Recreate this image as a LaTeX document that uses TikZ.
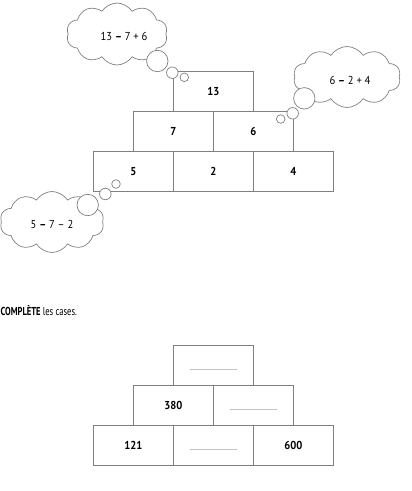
\documentclass[tikz,border=0pt]{standalone}
\usepackage{fontspec}
\setmainfont{PT Sans}
\newfontfamily\narrowfont[FakeStretch=0.74]{PT Sans}
\newfontfamily\numfont[FakeStretch=0.92]{PT Sans}
\usetikzlibrary{shapes.symbols}
\definecolor{linegray}{HTML}{808080}
\definecolor{blankgray}{HTML}{C4C4C4}
\tikzset{
 cell/.style={draw=linegray, line width=0.8pt, minimum width=80pt, minimum height=40pt, inner sep=0pt, font=\numfont\bfseries\fontsize{11.5}{13}\selectfont},
 thought/.style={cloud, draw=linegray, line width=0.7pt, cloud puffs=10, cloud puff arc=115, aspect=1.7, inner sep=0pt, minimum width=100pt, minimum height=60pt},
 thoughttext/.style={font=\numfont\fontsize{11.5}{13}\selectfont, inner sep=0pt},
 bubble/.style={circle, draw=linegray, line width=0.7pt, fill=white, inner sep=0pt},
 blank/.style={draw=blankgray, line width=0.6pt}
}
\begin{document}
\begin{tikzpicture}[x=1pt,y=-1pt]
\useasboundingbox (0,0) rectangle (412,491);
\clip (0,0) rectangle (412,491);
% clouds
\node[thought, minimum width=101pt, minimum height=62pt] (c1) at (117,34) {};
\node[thought, minimum width=107pt, minimum height=61pt] (c2) at (347,77) {};
\node[thought, minimum width=104pt, minimum height=61pt] (c3) at (52,222) {};
\node[thoughttext] (c1t) at (124,36) {13 \textbf{–} 7 + 6};
\node[thoughttext] (c2t) at (350,80) {6 \textbf{–} 2 + 4};
\node[thoughttext] (c3t) at (52,224) {5 \textbf{–} 7 – 2};
% upper pyramid
\node[cell] (a13) at (213.3,91.7) {13};
\node[cell] (a7) at (173.3,131.7) {7};
\node[cell] (a6) at (253.3,131.7) {6};
\node[cell] (a5) at (133.3,171.7) {5};
\node[cell] (a2) at (213.3,171.7) {2};
\node[cell] (a4) at (293.3,171.7) {4};
% bubbles
\node[bubble, minimum size=21.4pt] (b1l) at (157.3,61) {};
\node[bubble, minimum size=11.5pt] (b1m) at (172.3,72.7) {};
\node[bubble, minimum size=8.6pt] (b1s) at (184.3,77.3) {};
\node[bubble, minimum size=21.4pt] (b2l) at (304.3,98.3) {};
\node[bubble, minimum size=11.5pt] (b2m) at (292.7,113.3) {};
\node[bubble, minimum size=8.6pt] (b2s) at (280.7,119) {};
\node[bubble, minimum size=21.4pt] (b3l) at (87.7,205) {};
\node[bubble, minimum size=11.5pt] (b3m) at (105.3,194) {};
\node[bubble, minimum size=8.6pt] (b3s) at (116,184) {};
% instruction
\node[anchor=west, inner sep=0pt, font=\narrowfont\fontsize{11.5}{13}\selectfont] (instr) at (0.5,311) {\textbf{COMPLÈTE} les cases.};
% lower pyramid
\node[cell] (p1) at (213.3,365) {};
\node[cell] (p380) at (173.3,405) {380};
\node[cell] (p2) at (253.3,405) {};
\node[cell] (p121) at (133.3,445) {121};
\node[cell] (p3) at (213.3,445) {};
\node[cell] (p600) at (293.3,445) {600};
\draw[blank] ([xshift=-23.3pt,yshift=-4pt]p1.center) -- ([xshift=23.3pt,yshift=-4pt]p1.center);
\draw[blank] ([xshift=-23.3pt,yshift=-4pt]p2.center) -- ([xshift=23.3pt,yshift=-4pt]p2.center);
\draw[blank] ([xshift=-23.3pt,yshift=-4pt]p3.center) -- ([xshift=23.3pt,yshift=-4pt]p3.center);
\end{tikzpicture}
\end{document}
